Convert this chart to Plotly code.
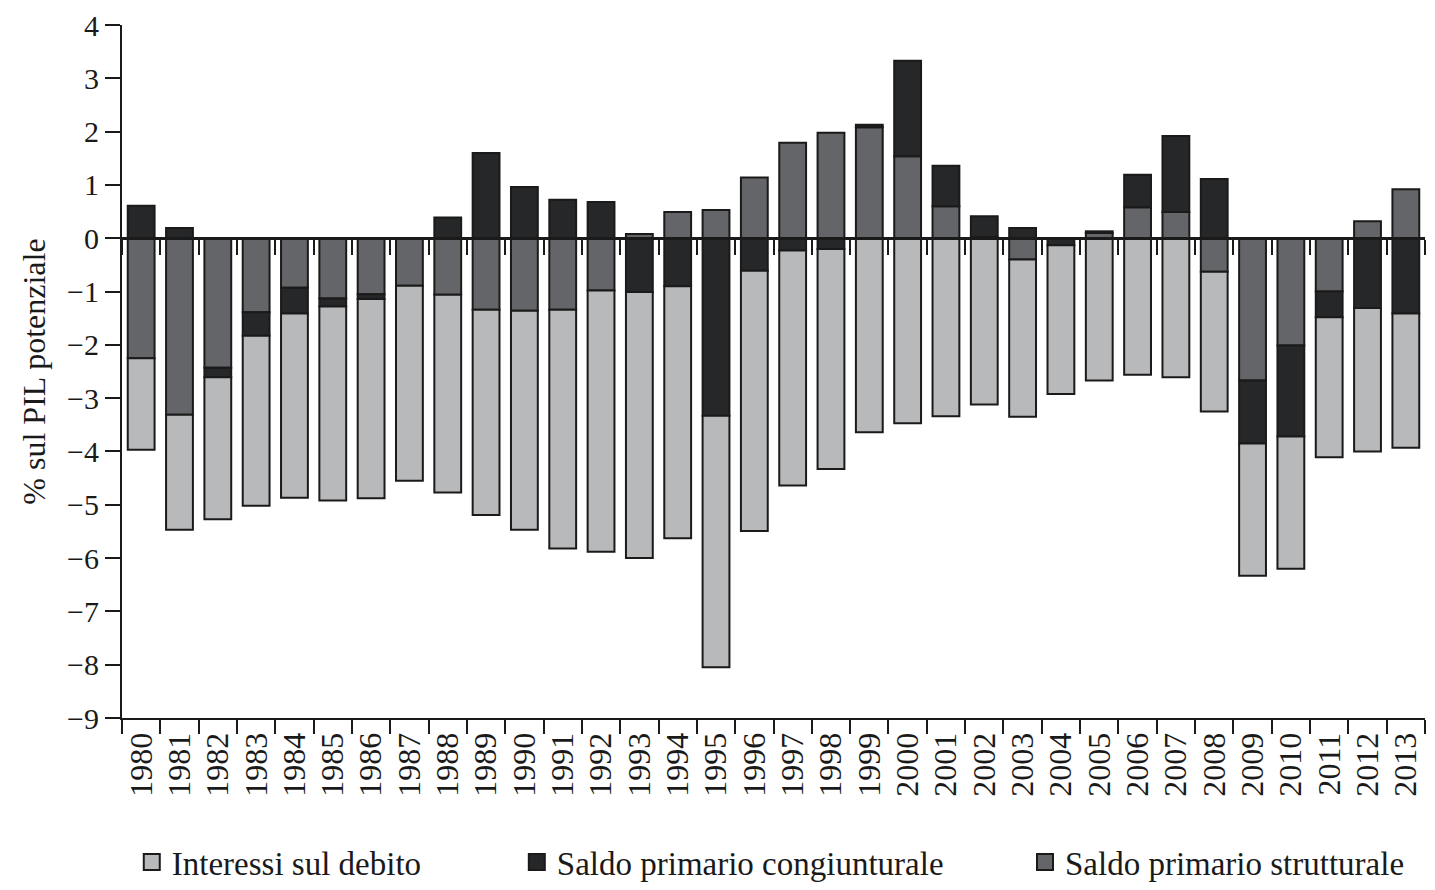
import plotly.graph_objects as go

years = [str(y) for y in range(1980, 2014)]

# Saldo primario strutturale (dark grey)
strutturale = [-2.25, -3.31, -2.43, -1.39, -0.93, -1.13, -1.05, -0.89, -1.06, -1.34,
               -1.36, -1.34, -0.98, 0.08, 0.49, 0.53, 1.14, 1.79, 1.98, 2.08,
               1.54, 0.60, 0.02, -0.40, 0.00, 0.10, 0.58, 0.49, -0.63, -2.67,
               -2.01, -1.00, 0.32, 0.92]
# Saldo primario congiunturale (black)
congiunturale = [0.61, 0.19, -0.18, -0.44, -0.48, -0.15, -0.09, 0.00, 0.39, 1.60,
                 0.96, 0.72, 0.68, -1.01, -0.90, -3.33, -0.61, -0.23, -0.20, 0.05,
                 1.79, 0.76, 0.39, 0.19, -0.13, 0.03, 0.61, 1.43, 1.11, -1.18,
                 -1.71, -0.48, -1.31, -1.41]
# Interessi sul debito (light grey)
interessi = [-1.72, -2.16, -2.66, -3.19, -3.46, -3.64, -3.74, -3.66, -3.71, -3.85,
             -4.11, -4.48, -4.90, -4.99, -4.73, -4.72, -4.88, -4.41, -4.13, -3.64,
             -3.47, -3.34, -3.12, -2.95, -2.79, -2.67, -2.56, -2.61, -2.62, -2.48,
             -2.48, -2.63, -2.69, -2.52]

y_ticks = list(range(-9, 5))

FONT = "Liberation Serif"
INK = "#1a1a1a"
C_LIGHT = "#b8b9bb"
C_BLACK = "#262729"
C_DARK = "#646568"

fig = go.Figure()
line = dict(color=INK, width=2)
series = [
    ("Saldo primario strutturale", strutturale, C_DARK, "legend3"),
    ("Saldo primario congiunturale", congiunturale, C_BLACK, "legend2"),
    ("Interessi sul debito", interessi, C_LIGHT, "legend"),
]
for name, vals, col, leg in series:
    fig.add_trace(go.Bar(x=years, y=vals, name=name, showlegend=False,
                         marker=dict(color=col, line=line)))
# legend entries (larger square keys)
for name, vals, col, leg in series:
    fig.add_trace(go.Scatter(x=[None], y=[None], name=name, mode="markers", legend=leg,
                             marker=dict(symbol="square", size=28, color=col,
                                         line=dict(color=INK, width=2))))
# carrier for the zero-line axis (draws nothing)
fig.add_trace(go.Scatter(x=years, y=[None] * len(years), xaxis="x2", mode="lines",
                         showlegend=False, hoverinfo="skip"))

ymin, ymax = -9, 4
zero_pos = (0 - ymin) / (ymax - ymin)

leg_font = dict(family=FONT, size=33, color=INK)
leg_common = dict(orientation="h", yanchor="middle", y=-0.208, xanchor="left",
                  font=leg_font, bgcolor="rgba(0,0,0,0)")

fig.update_layout(
    width=1419, height=874,
    showlegend=True,
    barmode="relative", bargap=0.3,
    plot_bgcolor="white", paper_bgcolor="white",
    margin=dict(l=114, r=2, t=17, b=164, autoexpand=False),
    font=dict(family=FONT, color=INK),
    legend=dict(x=0.0075, **leg_common),
    legend2=dict(x=0.303, **leg_common),
    legend3=dict(x=0.693, **leg_common),
    xaxis=dict(type="category", categoryarray=years, range=[-0.5, len(years) - 0.5],
               showline=True, linecolor=INK, linewidth=2,
               ticks="outside", ticklen=14, tickwidth=2, tickcolor=INK,
               tickson="boundaries", tickangle=-90,
               tickfont=dict(family=FONT, size=32, color=INK),
               showgrid=False, zeroline=False),
    xaxis2=dict(type="category", categoryarray=years, overlaying="x", anchor="free",
                position=zero_pos, side="bottom", range=[-0.5, len(years) - 0.5],
                tickson="boundaries", showticklabels=False,
                showline=True, linecolor=INK, linewidth=2.5,
                ticks="outside", ticklen=15, tickwidth=2, tickcolor=INK,
                showgrid=False, zeroline=False),
    yaxis=dict(range=[ymin, ymax], tickvals=y_ticks,
               showline=True, linecolor=INK, linewidth=2,
               ticks="outside", ticklen=15, tickwidth=2, tickcolor=INK,
               tickfont=dict(family=FONT, size=30, color=INK),
               showgrid=False, zeroline=False,
               title=dict(text="% sul PIL potenziale",
                          font=dict(family=FONT, size=32, color=INK), standoff=12)),
)

fig.write_html("out.html")
